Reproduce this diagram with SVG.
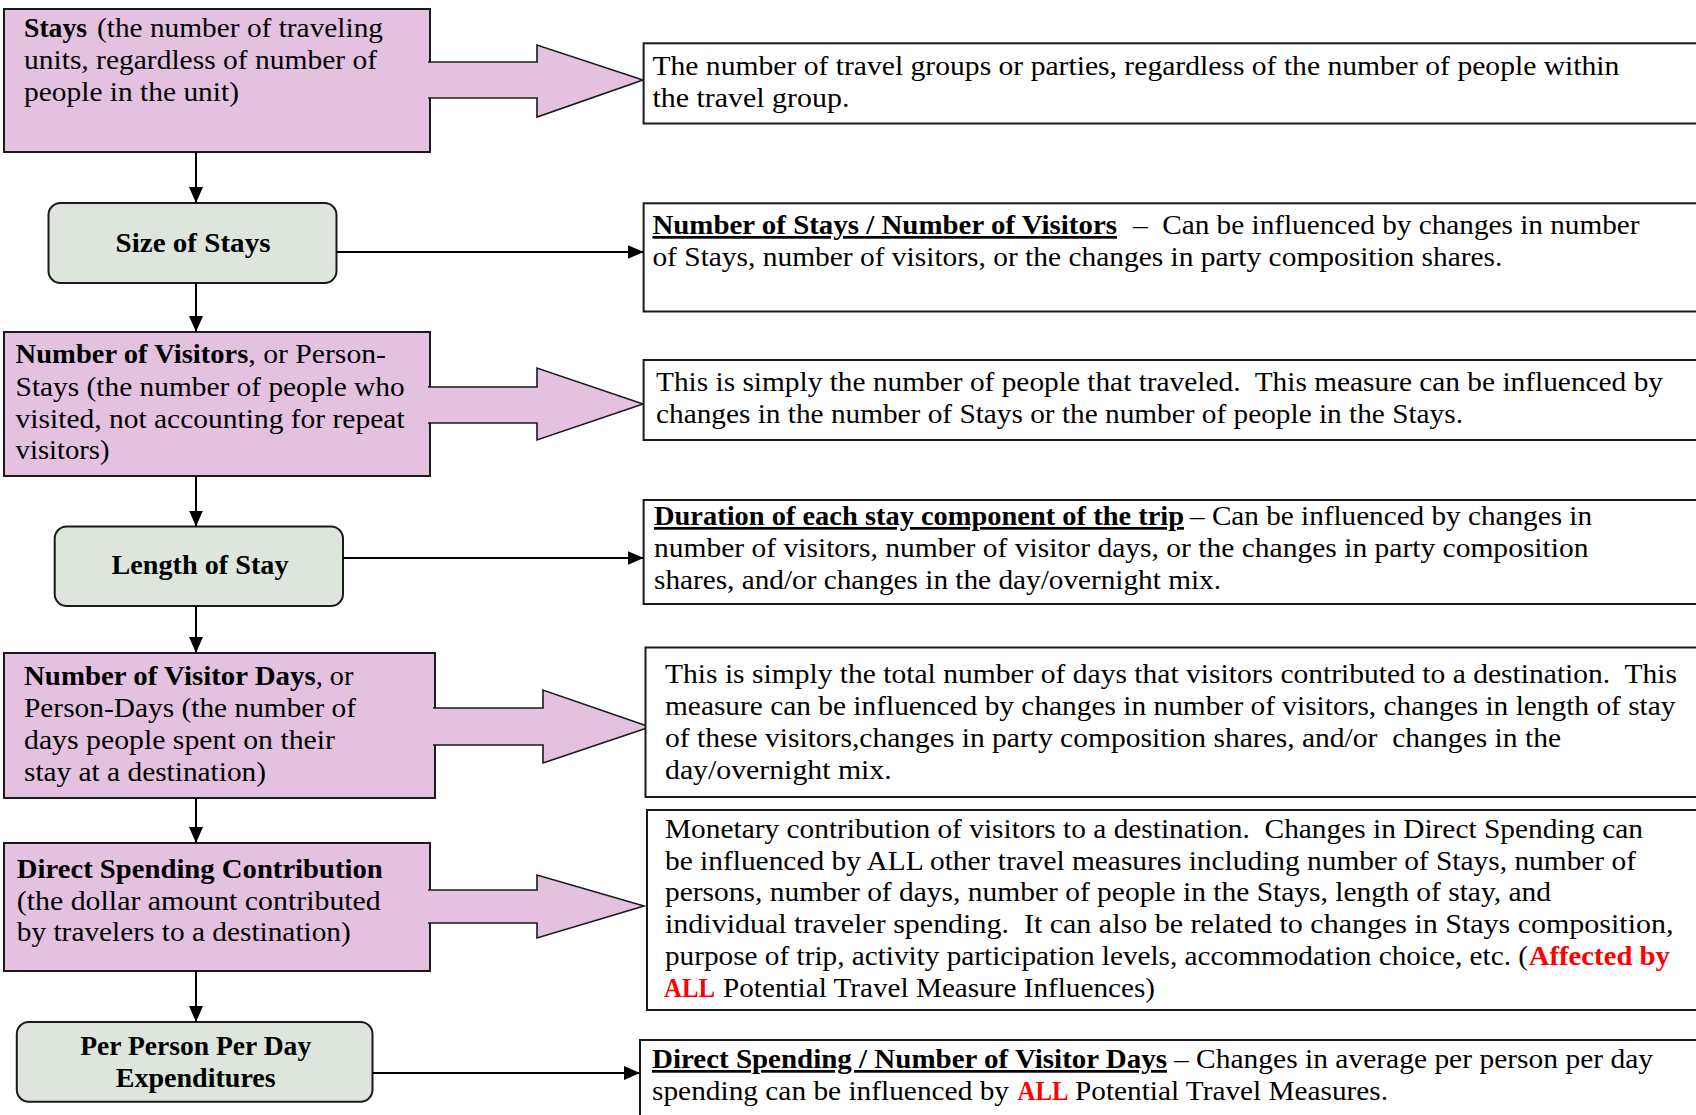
<svg xmlns="http://www.w3.org/2000/svg" width="1696" height="1115" viewBox="0 0 1696 1115">
<style>
.t{font-family:"Liberation Serif","Times New Roman",serif;font-size:27px;fill:#000}
.b{font-weight:bold}
.u{text-decoration:underline}
.r{fill:#ff0000;font-weight:bold}
.pink{fill:#E4C1DF;stroke:#1a1a1a;stroke-width:2}
.green{fill:#DDE5DC;stroke:#1a1a1a;stroke-width:2}
.desc{fill:#fff;stroke:#1a1a1a;stroke-width:2}
.big{fill:#E4C1DF;stroke:#1a1a1a;stroke-width:1.6;stroke-linejoin:miter}
.conn{stroke:#000;stroke-width:2;fill:none}
</style>
<defs>
<marker id="ah" markerUnits="userSpaceOnUse" markerWidth="16" markerHeight="14" refX="16" refY="7" orient="auto">
<path d="M0,0 L16,7 L0,14 z" fill="#000"/>
</marker>
</defs>
<rect width="1696" height="1115" fill="#fff"/>

<g id="node-stays">
<rect class="pink" x="4" y="9" width="426" height="143"/>
<text class="t b" x="24" y="37" textLength="63" lengthAdjust="spacingAndGlyphs">Stays</text>
<text class="t" x="97" y="37" textLength="286" lengthAdjust="spacingAndGlyphs">(the number of traveling</text>
<text class="t" x="24" y="69" textLength="353" lengthAdjust="spacingAndGlyphs">units, regardless of number of</text>
<text class="t" x="24" y="100.5" textLength="215" lengthAdjust="spacingAndGlyphs">people in the unit)</text>
<path class="big" d="M428,62 H537 V45 L643,80 L537,117 V98 H428"/>
</g>

<g id="node-size-of-stays">
<rect class="green" x="48.5" y="203" width="288" height="80" rx="12"/>
<text class="t b" x="193" y="252" text-anchor="middle" textLength="155" lengthAdjust="spacingAndGlyphs">Size of Stays</text>
</g>

<g id="node-visitors">
<rect class="pink" x="4" y="332" width="426" height="144"/>
<text class="t b" x="15.6" y="363" textLength="232.7" lengthAdjust="spacingAndGlyphs">Number of Visitors</text>
<text class="t" x="248.3" y="363" textLength="137.7" lengthAdjust="spacingAndGlyphs">, or Person-</text>
<text class="t" x="15.6" y="395.5" textLength="389" lengthAdjust="spacingAndGlyphs">Stays (the number of people who</text>
<text class="t" x="15.6" y="427.5" textLength="389" lengthAdjust="spacingAndGlyphs">visited, not accounting for repeat</text>
<text class="t" x="15.6" y="459" textLength="94" lengthAdjust="spacingAndGlyphs">visitors)</text>
<path class="big" d="M428,387 H537 V368 L643,404 L537,440 V423 H428"/>
</g>

<g id="node-length-of-stay">
<rect class="green" x="54.7" y="526.5" width="288.3" height="79.5" rx="12"/>
<text class="t b" x="200" y="574" text-anchor="middle" textLength="177" lengthAdjust="spacingAndGlyphs">Length of Stay</text>
</g>

<g id="node-visitor-days">
<rect class="pink" x="4" y="653" width="431" height="145"/>
<text class="t b" x="24" y="685" textLength="291.7" lengthAdjust="spacingAndGlyphs">Number of Visitor Days</text>
<text class="t" x="315.7" y="685" textLength="37.8" lengthAdjust="spacingAndGlyphs">, or</text>
<text class="t" x="24" y="717" textLength="332" lengthAdjust="spacingAndGlyphs">Person-Days (the number of</text>
<text class="t" x="24" y="749" textLength="311" lengthAdjust="spacingAndGlyphs">days people spent on their</text>
<text class="t" x="24" y="781" textLength="242" lengthAdjust="spacingAndGlyphs">stay at a destination)</text>
<path class="big" d="M433,708 H543 V690 L650,727 L543,763 V745 H433"/>
</g>

<g id="node-direct-spending">
<rect class="pink" x="4" y="843" width="426" height="128"/>
<text class="t b" x="16.8" y="878" textLength="366" lengthAdjust="spacingAndGlyphs">Direct Spending Contribution</text>
<text class="t" x="16.8" y="909.5" textLength="364" lengthAdjust="spacingAndGlyphs">(the dollar amount contributed</text>
<text class="t" x="16.8" y="941" textLength="334" lengthAdjust="spacingAndGlyphs">by travelers to a destination)</text>
<path class="big" d="M428,890 H537 V875 L644,906 L537,938 V923 H428"/>
</g>

<g id="node-per-person">
<rect class="green" x="16.8" y="1022" width="355.7" height="79.7" rx="12"/>
<text class="t b" x="195.7" y="1055" text-anchor="middle" textLength="231" lengthAdjust="spacingAndGlyphs">Per Person Per Day</text>
<text class="t b" x="195.7" y="1087" text-anchor="middle" textLength="160" lengthAdjust="spacingAndGlyphs">Expenditures</text>
</g>

<g id="desc-stays">
<rect class="desc" x="643.6" y="43.3" width="1070" height="80.2"/>
<text class="t" x="652.4" y="75" textLength="967" lengthAdjust="spacingAndGlyphs">The number of travel groups or parties, regardless of the number of people within</text>
<text class="t" x="652.4" y="107" textLength="197" lengthAdjust="spacingAndGlyphs">the travel group.</text>
</g>

<g id="desc-size">
<rect class="desc" x="643.6" y="203.3" width="1070" height="108.2"/>
<text class="t b u" x="652.4" y="234" textLength="464.6" lengthAdjust="spacingAndGlyphs">Number of Stays / Number of Visitors</text>
<text class="t" x="1133" y="234" textLength="506.5" lengthAdjust="spacingAndGlyphs" xml:space="preserve">–  Can be influenced by changes in number</text>
<text class="t" x="652.4" y="265.5" textLength="850" lengthAdjust="spacingAndGlyphs">of Stays, number of visitors, or the changes in party composition shares.</text>
</g>

<g id="desc-visitors">
<rect class="desc" x="643.6" y="360" width="1070" height="80"/>
<text class="t" x="656" y="391" textLength="1007" lengthAdjust="spacingAndGlyphs" xml:space="preserve">This is simply the number of people that traveled.  This measure can be influenced by</text>
<text class="t" x="656" y="423" textLength="807" lengthAdjust="spacingAndGlyphs">changes in the number of Stays or the number of people in the Stays.</text>
</g>

<g id="desc-length">
<rect class="desc" x="643.6" y="500" width="1070" height="104"/>
<text class="t b u" x="654" y="525" textLength="530" lengthAdjust="spacingAndGlyphs">Duration of each stay component of the trip</text>
<text class="t" x="1190" y="525" textLength="402" lengthAdjust="spacingAndGlyphs">– Can be influenced by changes in</text>
<text class="t" x="654" y="557" textLength="934.5" lengthAdjust="spacingAndGlyphs">number of visitors, number of visitor days, or the changes in party composition</text>
<text class="t" x="654" y="589" textLength="567" lengthAdjust="spacingAndGlyphs">shares, and/or changes in the day/overnight mix.</text>
</g>

<g id="desc-visitor-days">
<rect class="desc" x="645.5" y="647.5" width="1070" height="149.5"/>
<text class="t" x="665" y="683" textLength="1012" lengthAdjust="spacingAndGlyphs" xml:space="preserve">This is simply the total number of days that visitors contributed to a destination.  This</text>
<text class="t" x="665" y="715" textLength="1010.5" lengthAdjust="spacingAndGlyphs">measure can be influenced by changes in number of visitors, changes in length of stay</text>
<text class="t" x="665" y="747" textLength="896" lengthAdjust="spacingAndGlyphs" xml:space="preserve">of these visitors,changes in party composition shares, and/or  changes in the</text>
<text class="t" x="665" y="779" textLength="226.7" lengthAdjust="spacingAndGlyphs">day/overnight mix.</text>
</g>

<g id="desc-direct-spending">
<rect class="desc" x="647" y="810" width="1070" height="200"/>
<text class="t" x="665" y="838" textLength="978" lengthAdjust="spacingAndGlyphs" xml:space="preserve">Monetary contribution of visitors to a destination.  Changes in Direct Spending can</text>
<text class="t" x="665" y="869.5" textLength="971" lengthAdjust="spacingAndGlyphs">be influenced by ALL other travel measures including number of Stays, number of</text>
<text class="t" x="665" y="901" textLength="886" lengthAdjust="spacingAndGlyphs">persons, number of days, number of people in the Stays, length of stay, and</text>
<text class="t" x="665" y="933" textLength="1008.5" lengthAdjust="spacingAndGlyphs" xml:space="preserve">individual traveler spending.  It can also be related to changes in Stays composition,</text>
<text class="t" x="665" y="965" textLength="863" lengthAdjust="spacingAndGlyphs">purpose of trip, activity participation levels, accommodation choice, etc. (</text>
<text class="t r" x="1528.7" y="965" textLength="141.3" lengthAdjust="spacingAndGlyphs">Affected by</text>
<text class="t r" x="664" y="997" textLength="51" lengthAdjust="spacingAndGlyphs">ALL</text>
<text class="t" x="723" y="997" textLength="432" lengthAdjust="spacingAndGlyphs">Potential Travel Measure Influences)</text>
</g>

<g id="desc-per-person">
<rect class="desc" x="640" y="1040" width="1070" height="100"/>
<text class="t b u" x="652" y="1068" textLength="515" lengthAdjust="spacingAndGlyphs">Direct Spending / Number of Visitor Days</text>
<text class="t" x="1174" y="1068" textLength="479" lengthAdjust="spacingAndGlyphs">– Changes in average per person per day</text>
<text class="t" x="652" y="1100" textLength="357" lengthAdjust="spacingAndGlyphs">spending can be influenced by</text>
<text class="t r" x="1017.5" y="1100" textLength="51" lengthAdjust="spacingAndGlyphs">ALL</text>
<text class="t" x="1075" y="1100" textLength="313" lengthAdjust="spacingAndGlyphs">Potential Travel Measures.</text>
</g>

<g id="connectors">
<line class="conn" x1="196" y1="152" x2="196" y2="203" marker-end="url(#ah)"/>
<line class="conn" x1="196" y1="283" x2="196" y2="332" marker-end="url(#ah)"/>
<line class="conn" x1="196" y1="476" x2="196" y2="526.5" marker-end="url(#ah)"/>
<line class="conn" x1="196" y1="606" x2="196" y2="653" marker-end="url(#ah)"/>
<line class="conn" x1="196" y1="798" x2="196" y2="843" marker-end="url(#ah)"/>
<line class="conn" x1="196" y1="971" x2="196" y2="1022" marker-end="url(#ah)"/>
<line class="conn" x1="337" y1="252" x2="643.6" y2="252" marker-end="url(#ah)"/>
<line class="conn" x1="343" y1="558" x2="643.6" y2="558" marker-end="url(#ah)"/>
<line class="conn" x1="372.5" y1="1073" x2="640" y2="1073" marker-end="url(#ah)"/>
</g>
</svg>
